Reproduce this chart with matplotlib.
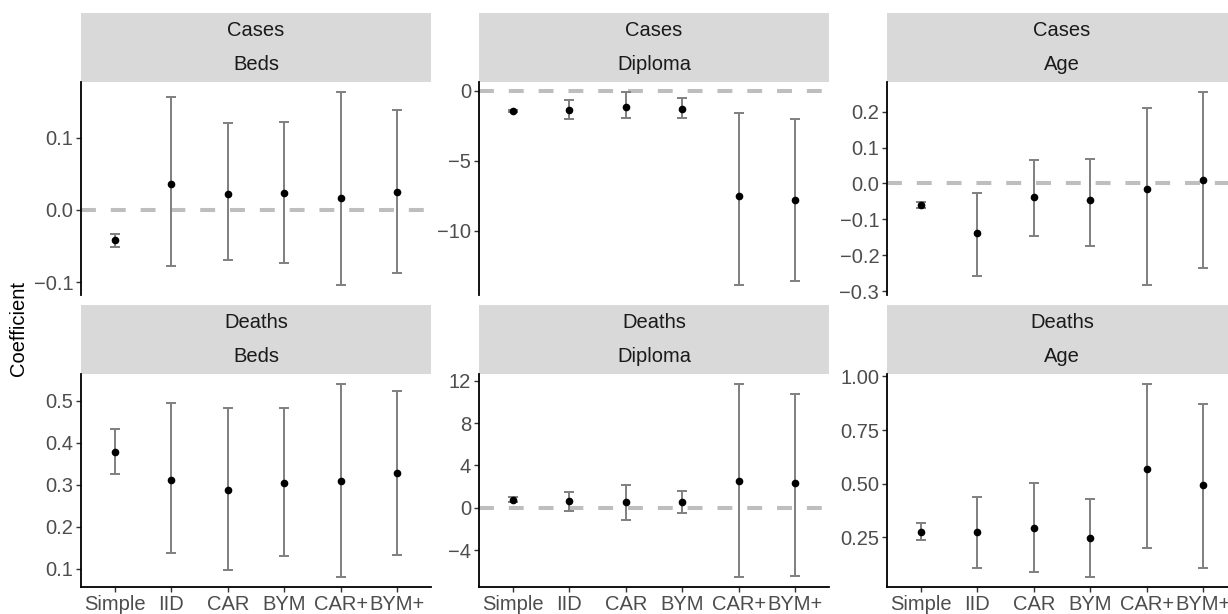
import numpy as np
import matplotlib
matplotlib.use("Agg")
import matplotlib.pyplot as plt

# ─── DATA ────────────────────────────────────────────────────────────────────
models = ["Simple", "IID", "CAR", "BYM", "CAR+", "BYM+"]

# Cases
cases_beds_est = [-0.042, 0.036, 0.022, 0.024, 0.0165, 0.025]
cases_beds_lo  = [-0.051, -0.078, -0.069, -0.073, -0.1045, -0.088]
cases_beds_hi  = [-0.034, 0.156, 0.121, 0.122, 0.164, 0.139]

cases_dipl_est = [-1.42, -1.35, -1.16, -1.28, -7.49, -7.78]
cases_dipl_lo  = [-1.50, -2.00, -1.96, -1.96, -13.88, -13.55]
cases_dipl_hi  = [-1.35, -0.69, -0.07, -0.52, -1.61, -2.01]

cases_age_est = [-0.059, -0.139, -0.038, -0.046, -0.014, 0.009]
cases_age_lo  = [-0.067, -0.259, -0.146, -0.173, -0.284, -0.236]
cases_age_hi  = [-0.052, -0.026, 0.066, 0.069, 0.211, 0.256]

# Deaths
deaths_beds_est = [0.379, 0.312, 0.287, 0.305, 0.310, 0.328]
deaths_beds_lo  = [0.325, 0.137, 0.098, 0.130, 0.080, 0.133]
deaths_beds_hi  = [0.434, 0.4945, 0.482, 0.482, 0.541, 0.524]

deaths_dipl_est = [0.78, 0.62, 0.56, 0.56, 2.57, 2.38]
deaths_dipl_lo  = [0.56, -0.31, -1.16, -0.47, -6.56, -6.40]
deaths_dipl_hi  = [1.00, 1.47, 2.19, 1.63, 11.72, 10.78]

deaths_age_est = [0.275, 0.273, 0.294, 0.245, 0.569, 0.495]
deaths_age_lo  = [0.236, 0.108, 0.086, 0.063, 0.199, 0.108]
deaths_age_hi  = [0.315, 0.436, 0.501, 0.430, 0.966, 0.871]

panels = [
    ("Cases", "Beds", cases_beds_est, cases_beds_lo, cases_beds_hi,
     [-0.1, 0.0, 0.1], "{:.1f}"),
    ("Cases", "Diploma", cases_dipl_est, cases_dipl_lo, cases_dipl_hi,
     [-10, -5, 0], "{:.0f}"),
    ("Cases", "Age", cases_age_est, cases_age_lo, cases_age_hi,
     [-0.3, -0.2, -0.1, 0.0, 0.1, 0.2], "{:.1f}"),
    ("Deaths", "Beds", deaths_beds_est, deaths_beds_lo, deaths_beds_hi,
     [0.1, 0.2, 0.3, 0.4, 0.5], "{:.1f}"),
    ("Deaths", "Diploma", deaths_dipl_est, deaths_dipl_lo, deaths_dipl_hi,
     [-4, 0, 4, 8, 12], "{:.0f}"),
    ("Deaths", "Age", deaths_age_est, deaths_age_lo, deaths_age_hi,
     [0.25, 0.50, 0.75, 1.00], "{:.2f}"),
]

# ─── STYLE ────────────────────────────────────────────────────────────────────
STRIP = "#D9D9D9"
BAR   = "#7F7F7F"
ZERO  = "#BEBEBE"
TICKC = "#4D4D4D"
FS    = 14.5

plt.rcParams.update({
    "font.family": ["Liberation Sans", "DejaVu Sans"],
    "font.size": FS,
})

W, H = 1228, 614
fig = plt.figure(figsize=(W / 100, H / 100), dpi=100)

col_left = [81, 479, 887]
col_w = 350
rows = [(13, 82, 295), (305, 374, 587)]   # strip top, panel top, panel bottom


def fig_rect(x0, y0, x1, y1):
    return [x0 / W, 1 - y1 / H, (x1 - x0) / W, (y1 - y0) / H]


def fmt(v, pattern):
    s = pattern.format(v)
    if s.startswith("-") and float(s) == 0:
        s = s[1:]
    return s.replace("-", "\u2212")


x = np.arange(len(models))
for i, (outcome, var, est, lo, hi, yticks, pat) in enumerate(panels):
    r, c = divmod(i, 3)
    s_top, p_top, p_bot = rows[r]
    x0 = col_left[c]

    # strip
    sax = fig.add_axes(fig_rect(x0, s_top, x0 + col_w, p_top))
    sax.set_facecolor(STRIP)
    sax.set_xticks([]); sax.set_yticks([])
    for sp in sax.spines.values():
        sp.set_visible(False)
    sax.text(0.5, 0.74, outcome, ha="center", va="center",
             transform=sax.transAxes, fontsize=FS, color="#1A1A1A")
    sax.text(0.5, 0.25, var, ha="center", va="center",
             transform=sax.transAxes, fontsize=FS, color="#1A1A1A")

    # panel
    ax = fig.add_axes(fig_rect(x0, p_top, x0 + col_w, p_bot))
    est = np.array(est); lo = np.array(lo); hi = np.array(hi)
    ymin, ymax = lo.min(), hi.max()
    pad = 0.05 * (ymax - ymin)
    ax.set_ylim(ymin - pad, ymax + pad)
    ax.set_xlim(-0.6, len(models) - 0.4)

    ax.axhline(0, color=ZERO, lw=2.9, ls=(0, (3.7, 3.7)), zorder=1)
    ax.errorbar(x, est, yerr=[est - lo, hi - est], fmt="none",
                ecolor=BAR, elinewidth=1.4, capsize=3.6, capthick=1.4,
                zorder=2)
    ax.plot(x, est, "o", color="black", ms=4.5, zorder=3)

    for side in ("top", "right"):
        ax.spines[side].set_visible(False)
    ax.spines["left"].set_linewidth(1.3)
    ax.spines["bottom"].set_linewidth(1.3)
    ax.set_yticks(yticks)
    ax.set_yticklabels([fmt(v, pat) for v in yticks])
    ax.tick_params(axis="both", length=3.6, width=1.0, color="#333333",
                   labelcolor=TICKC, labelsize=FS, pad=2)
    ax.set_xticks(x)
    if r == 1:
        ax.set_xticklabels(models)
    else:
        ax.spines["bottom"].set_visible(False)
        ax.tick_params(axis="x", bottom=False, labelbottom=False)

fig.text(19 / W, 1 - 328 / H, "Coefficient", rotation=90,
         ha="center", va="center", fontsize=FS, color="black")

fig.savefig("out.png", dpi=100)
